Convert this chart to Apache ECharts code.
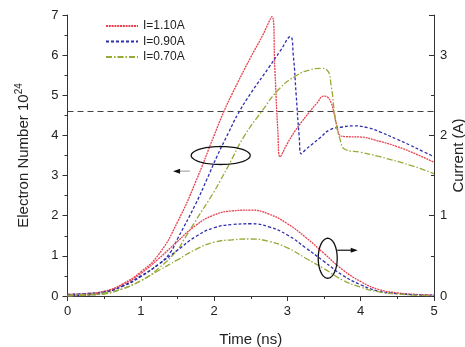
<!DOCTYPE html>
<html>
<head>
<meta charset="utf-8">
<script src="https://cdn.jsdelivr.net/npm/echarts@6/dist/echarts.min.js"></script>
<style>html,body{margin:0;padding:0;background:#fff}#c{width:465px;height:347px}</style>
</head>
<body>
<div id="c"></div>
<script>
// ---- data ----
const seriesNames = ['I=1.10A', 'I=0.90A', 'I=0.70A'];
const xTicks = [0, 1, 2, 3, 4, 5];
const leftTicks = [0, 1, 2, 3, 4, 5, 6, 7];
const rightTicks = [0, 1, 2, 3];
const threshold = 4.6;

// electron number (10^24), left axis
const tRed = [0, 0.25, 0.5, 0.75, 1.0, 1.25, 1.5, 1.75, 2.0, 2.13, 2.25, 2.5, 2.65, 2.79, 2.83, 2.87, 2.9, 3.0, 3.1, 3.2, 3.3, 3.4, 3.5, 3.55, 3.6, 3.63, 3.68, 3.72, 3.8, 4.0, 4.2, 4.5, 4.8, 5.0];
const nRed = [0, 0.03, 0.1, 0.3, 0.6, 1.05, 1.84, 2.85, 4.0, 4.58, 5.05, 5.95, 6.45, 6.96, 5.6, 4.1, 3.47, 3.8, 4.1, 4.35, 4.58, 4.8, 4.98, 4.95, 4.8, 4.6, 4.2, 4.0, 3.97, 3.96, 3.88, 3.72, 3.5, 3.33];

const tBlue = [0, 0.25, 0.5, 0.75, 1.0, 1.25, 1.4, 1.5, 1.75, 1.9, 2.04, 2.2, 2.33, 2.5, 2.75, 2.9, 3.04, 3.08, 3.12, 3.16, 3.19, 3.25, 3.35, 3.45, 3.58, 3.75, 3.9, 4.1, 4.26, 4.5, 4.67, 4.85, 5.0];
const nBlue = [0, 0.02, 0.08, 0.25, 0.5, 0.8, 1.08, 1.42, 2.3, 2.9, 3.48, 4.08, 4.55, 5.05, 5.7, 6.1, 6.46, 6.0, 5.0, 4.0, 3.54, 3.65, 3.8, 3.95, 4.14, 4.21, 4.24, 4.19, 4.09, 3.9, 3.76, 3.6, 3.47];

const tGreen = [0, 0.25, 0.5, 0.75, 1.0, 1.25, 1.5, 1.58, 1.75, 2.0, 2.08, 2.22, 2.4, 2.65, 2.9, 3.13, 3.3, 3.45, 3.54, 3.6, 3.65, 3.72, 3.79, 4.0, 4.26, 4.67, 5.0];
const nGreen = [0, 0.02, 0.05, 0.18, 0.38, 0.7, 1.15, 1.38, 1.88, 2.6, 2.86, 3.33, 3.95, 4.6, 5.18, 5.5, 5.63, 5.67, 5.63, 5.2, 4.47, 3.89, 3.65, 3.58, 3.47, 3.26, 3.05];

// current (A), right axis
const tCur = [0, 0.25, 0.5, 0.75, 1.0, 1.25, 1.5, 1.75, 2.0, 2.25, 2.5, 2.75, 3.0, 3.25, 3.5, 3.75, 4.0, 4.25, 4.5, 4.75, 5.0];
const iRed = [0.02, 0.03, 0.06, 0.14, 0.28, 0.47, 0.68, 0.88, 1.01, 1.06, 1.07, 1.02, 0.9, 0.73, 0.53, 0.33, 0.18, 0.08, 0.04, 0.02, 0.01];
const iBlue = [0.02, 0.03, 0.05, 0.12, 0.24, 0.4, 0.57, 0.74, 0.85, 0.89, 0.9, 0.86, 0.76, 0.6, 0.43, 0.26, 0.14, 0.06, 0.03, 0.015, 0.01];
const iGreen = [0.01, 0.02, 0.04, 0.09, 0.19, 0.32, 0.45, 0.58, 0.67, 0.7, 0.71, 0.68, 0.6, 0.47, 0.34, 0.2, 0.11, 0.05, 0.025, 0.01, 0.005];

// ---- chart ----
const zip = (a, b) => a.map((x, i) => [x, b[i]]);
const colors = ['#e8414f', '#2f2fae', '#9aa836'];
const dashes = [[2, 0.8], [3, 2], [6, 2, 1.5, 2]];
const font = 'Liberation Sans, Arial, sans-serif';
const axisCol = '#333';

const chart = echarts.init(document.getElementById('c'), null, {renderer: 'canvas'});

function mk(name, data, idx, yAxisIndex, extra) {
  return Object.assign({
    name: name, type: 'line', data: data, yAxisIndex: yAxisIndex,
    symbol: 'none', smooth: 0.5,
    lineStyle: {color: colors[idx], width: 1.3, type: dashes[idx]},
    itemStyle: {color: colors[idx]},
    z: 3
  }, extra || {});
}

const series = [
  mk(seriesNames[0], zip(tRed, nRed), 0, 0, {
    markLine: {
      silent: true, symbol: 'none', label: {show: false},
      lineStyle: {color: '#444', type: [6, 4], width: 1},
      data: [{yAxis: threshold}]
    }
  }),
  mk(seriesNames[1], zip(tBlue, nBlue), 1, 0),
  mk(seriesNames[2], zip(tGreen, nGreen), 2, 0),
  mk(seriesNames[0], zip(tCur, iRed), 0, 1),
  mk(seriesNames[1], zip(tCur, iBlue), 1, 1),
  mk(seriesNames[2], zip(tCur, iGreen), 2, 1)
];

const option = {
  animation: false,
  backgroundColor: '#fff',
  textStyle: {fontFamily: font},
  grid: {left: 67.5, right: 31, top: 15, bottom: 51, containLabel: false, outerBoundsMode: 'none'},
  legend: {
    data: seriesNames, orient: 'vertical', left: 105, top: 20, padding: 0,
    itemWidth: 32, itemHeight: 12, itemGap: 3.5,
    itemStyle: {opacity: 0},
    textStyle: {fontSize: 12, color: '#222', fontFamily: font}
  },
  xAxis: {
    type: 'value', min: xTicks[0], max: xTicks[xTicks.length - 1], interval: 1,
    name: 'Time (ns)', nameLocation: 'middle', nameGap: 36,
    nameTextStyle: {fontSize: 15, color: '#222', fontFamily: font},
    axisLine: {show: true, lineStyle: {color: axisCol, width: 1}},
    axisTick: {show: true, length: 5, lineStyle: {color: axisCol}},
    minorTick: {show: true, splitNumber: 2, length: 3, lineStyle: {color: axisCol}},
    splitLine: {show: false},
    axisLabel: {fontSize: 13, color: '#222', margin: 9, fontFamily: font}
  },
  yAxis: [
    {
      type: 'value', min: leftTicks[0], max: leftTicks[leftTicks.length - 1], interval: 1,
      name: 'Electron Number 10{sup|24}', nameLocation: 'middle', nameGap: 35, nameRotate: 90,
      nameTextStyle: {fontSize: 15, color: '#222', fontFamily: font,
        rich: {sup: {fontSize: 10, verticalAlign: 'top', padding: [0, 0, 8, 0], color: '#222', fontFamily: font}}},
      axisLine: {show: true, lineStyle: {color: axisCol, width: 1}},
      axisTick: {show: true, length: 5, lineStyle: {color: axisCol}},
      minorTick: {show: true, splitNumber: 2, length: 3, lineStyle: {color: axisCol}},
      splitLine: {show: false},
      axisLabel: {fontSize: 13, color: '#222', margin: 9, fontFamily: font}
    },
    {
      type: 'value', min: 0, max: 3.5, interval: 1, position: 'right',
      name: 'Current (A)', nameLocation: 'middle', nameGap: 17, nameRotate: 90, nameMoveOverlap: false,
      nameTextStyle: {fontSize: 15, color: '#222', fontFamily: font},
      axisLine: {show: true, lineStyle: {color: axisCol, width: 1}},
      axisTick: {show: true, inside: true, length: 5, lineStyle: {color: axisCol}},
      minorTick: {show: true, splitNumber: 2, length: 3, lineStyle: {color: axisCol}},
      splitLine: {show: false},
      axisLabel: {fontSize: 13, color: '#222', margin: 6, fontFamily: font,
        formatter: function (v) { return rightTicks.indexOf(v) >= 0 ? String(v) : ''; }}
    }
  ],
  series: series
};
chart.setOption(option);

// ---- annotations (placed in data coordinates) ----
const annEll1 = [2.09, 3.5];          // left axis
const annArrow1 = [[1.67, 3.11], [1.44, 3.11]];
const annEll2 = [3.55, 0.47];         // right axis
const annArrow2 = [[3.68, 0.57], [3.96, 0.57]];

const L = p => chart.convertToPixel({xAxisIndex: 0, yAxisIndex: 0}, p);
const R = p => chart.convertToPixel({xAxisIndex: 0, yAxisIndex: 1}, p);

function ellipsePts(c, rx, ry) {
  const pts = [];
  for (let k = 0; k < 72; k++) {
    const a = k / 72 * Math.PI * 2;
    pts.push([c[0] + rx * Math.cos(a), c[1] + ry * Math.sin(a)]);
  }
  return pts;
}
function arrow(p0, p1, tailColor) {
  const dir = Math.sign(p1[0] - p0[0]);
  const hx = p1[0], hy = p1[1];
  return [
    {type: 'line', shape: {x1: p0[0], y1: p0[1], x2: hx - dir * 4, y2: hy},
      style: {stroke: tailColor, lineWidth: 1.2}, z: 10},
    {type: 'polygon', shape: {points: [[hx, hy], [hx - dir * 7, hy - 2.5], [hx - dir * 7, hy + 2.5]]},
      style: {fill: '#111'}, z: 10}
  ];
}
const e1 = L(annEll1), e2 = R(annEll2);
const a1 = annArrow1.map(L), a2 = annArrow2.map(R);
chart.setOption({
  graphic: [
    {type: 'polygon', shape: {points: ellipsePts(e1, 29.5, 9)}, style: {fill: 'none', stroke: '#111', lineWidth: 1.3}, z: 10},
    {type: 'polygon', shape: {points: ellipsePts(e2, 9.5, 20)}, style: {fill: 'none', stroke: '#111', lineWidth: 1.3}, z: 10}
  ].concat(arrow(a1[0], a1[1], '#aaa')).concat(arrow(a2[0], a2[1], '#111'))
});
</script>
</body>
</html>
